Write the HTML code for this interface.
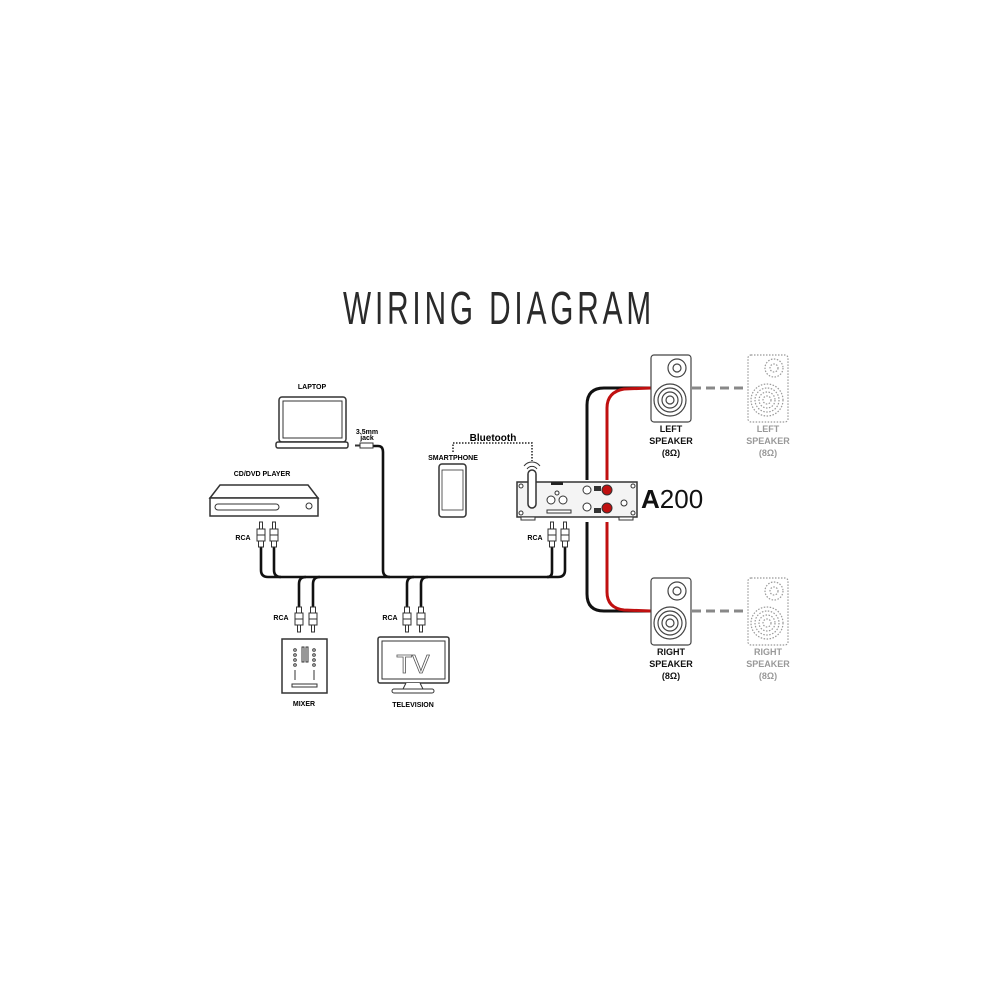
<!DOCTYPE html>
<html><head><meta charset="utf-8"><style>
html,body{margin:0;padding:0;background:#fff;}
svg{display:block;}
text{font-family:"Liberation Sans",sans-serif;}
.b{font-weight:bold;}
</style></head><body>
<svg width="1000" height="1000" viewBox="0 0 1000 1000" xmlns="http://www.w3.org/2000/svg">
<rect width="1000" height="1000" fill="#fff"/>
<text x="343" y="324" font-size="46" fill="#2a2a2a" textLength="312" lengthAdjust="spacingAndGlyphs" style="font-weight:normal;letter-spacing:6px">WIRING DIAGRAM</text>

<defs><g id="plugU" fill="#fff" stroke="#333" stroke-width="1"><rect x="-1.5" y="0" width="3" height="7"/><rect x="-4" y="7" width="8" height="12"/><line x1="-4" y1="13" x2="4" y2="13"/><rect x="-2.5" y="19" width="5" height="6"/></g>
<g id="plugD" fill="#fff" stroke="#333" stroke-width="1"><rect x="-2.5" y="0" width="5" height="6"/><rect x="-4" y="6" width="8" height="12"/><line x1="-4" y1="12" x2="4" y2="12"/><rect x="-1.5" y="18" width="3" height="7"/></g>
<g id="spk" fill="#fff" stroke-width="1.2">
<rect x="0" y="0" width="40" height="67" rx="3"/>
<circle cx="26" cy="13" r="9"/><circle cx="26" cy="13" r="4"/>
<circle cx="19" cy="45" r="16"/><circle cx="19" cy="45" r="12"/><circle cx="19" cy="45" r="8"/><circle cx="19" cy="45" r="4"/>
</g></defs>

<!-- cables black bus -->
<g fill="none" stroke="#111" stroke-width="2.6">
<path d="M261 547 V570 Q261 577 268 577 H558"/>
<path d="M552 547 V572 Q552 577 547 577"/>
<path d="M274 547 V570 Q274 577 281 577"/>
<path d="M565 547 V570 Q565 577 558 577"/>
<path d="M299 607 V584 Q299 577 306 577"/>
<path d="M313 607 V584 Q313 577 320 577"/>
<path d="M407 607 V584 Q407 577 414 577"/>
<path d="M421 607 V584 Q421 577 428 577"/>
<path d="M372 446 H378 Q383 446 383 452 V570 Q383 577 390 577"/>
</g>
<!-- speaker wires -->
<g fill="none" stroke-width="3">
<path d="M587 480 V405 Q587 388 604 388 H651" stroke="#111"/>
<path d="M607 480 V408 Q607 392 624 389 L651 388" stroke="#c01010"/>
<path d="M587 522 V594 Q587 611 604 611 H651" stroke="#111"/>
<path d="M607 522 V592 Q607 608 624 610 L651 611" stroke="#c01010"/>
</g>
<g stroke="#888" stroke-width="3" stroke-dasharray="9,5">
<line x1="692" y1="388" x2="748" y2="388"/><line x1="692" y1="611" x2="748" y2="611"/>
</g>

<!-- laptop -->
<text x="312" y="389" font-size="7" class="b" text-anchor="middle">LAPTOP</text>
<rect x="279" y="397" width="67" height="45" rx="3" fill="#fff" stroke="#333" stroke-width="1.5"/>
<rect x="283" y="401" width="59" height="37" fill="none" stroke="#333" stroke-width="1"/>
<rect x="276" y="442" width="72" height="6" rx="2" fill="#fff" stroke="#333" stroke-width="1.5"/>
<text x="367" y="434" font-size="7" class="b" text-anchor="middle">3.5mm</text>
<text x="367" y="440" font-size="7" class="b" text-anchor="middle">jack</text>
<rect x="360" y="443" width="13" height="5" fill="#fff" stroke="#333"/>
<line x1="355" y1="445.5" x2="360" y2="445.5" stroke="#333" stroke-width="2"/>

<!-- CD -->
<text x="262" y="476" font-size="7" class="b" text-anchor="middle">CD/DVD PLAYER</text>
<path d="M210 498 L220 485 H308 L318 498 Z" fill="#fff" stroke="#333" stroke-width="1.5"/>
<rect x="210" y="498" width="108" height="18" fill="#fff" stroke="#333" stroke-width="1.5"/>
<rect x="215" y="504" width="64" height="6" rx="3" fill="none" stroke="#333"/>
<circle cx="309" cy="506" r="3" fill="none" stroke="#333"/>

<use href="#plugU" x="261" y="522"/><use href="#plugU" x="274" y="522"/>
<use href="#plugU" x="552" y="522"/><use href="#plugU" x="565" y="522"/>
<use href="#plugD" x="299" y="607"/><use href="#plugD" x="313" y="607"/>
<use href="#plugD" x="407" y="607"/><use href="#plugD" x="421" y="607"/>
<text x="243" y="540" font-size="7" class="b" text-anchor="middle">RCA</text>
<text x="535" y="540" font-size="7" class="b" text-anchor="middle">RCA</text>
<text x="281" y="620" font-size="7" class="b" text-anchor="middle">RCA</text>
<text x="390" y="620" font-size="7" class="b" text-anchor="middle">RCA</text>

<!-- mixer -->
<rect x="282" y="639" width="45" height="54" fill="#fff" stroke="#333" stroke-width="1.5"/>
<g fill="none" stroke="#333" stroke-width="1">
<circle cx="295" cy="650" r="1.3"/><circle cx="295" cy="655" r="1.3"/><circle cx="295" cy="660" r="1.3"/><circle cx="295" cy="665" r="1.3"/>
<circle cx="314" cy="650" r="1.3"/><circle cx="314" cy="655" r="1.3"/><circle cx="314" cy="660" r="1.3"/><circle cx="314" cy="665" r="1.3"/>
<rect x="302" y="647" width="2" height="15"/><rect x="306" y="647" width="2" height="15"/>
<line x1="295" y1="670" x2="295" y2="680"/><line x1="314" y1="670" x2="314" y2="680"/>
<rect x="292" y="684" width="25" height="3"/>
</g>
<text x="304" y="706" font-size="7" class="b" text-anchor="middle">MIXER</text>

<!-- TV -->
<rect x="378" y="637" width="71" height="46" rx="2" fill="#fff" stroke="#333" stroke-width="1.5"/>
<rect x="382" y="641" width="63" height="38" fill="none" stroke="#333"/>
<text x="413" y="673" font-size="26" text-anchor="middle" fill="#fff" stroke="#555" stroke-width="0.8">TV</text>
<path d="M406 683 L403 689 H423 L420 683" fill="#fff" stroke="#333"/>
<rect x="392" y="689" width="42" height="4" rx="2" fill="#fff" stroke="#333"/>
<text x="413" y="707" font-size="7" class="b" text-anchor="middle">TELEVISION</text>

<!-- smartphone / bluetooth -->
<text x="453" y="460" font-size="7" class="b" text-anchor="middle">SMARTPHONE</text>
<rect x="439" y="464" width="27" height="53" rx="3" fill="#fff" stroke="#333" stroke-width="1.5"/>
<rect x="442" y="470" width="21" height="40" fill="none" stroke="#333" stroke-width="0.8"/>
<path d="M453 452 V443 H532 V461" fill="none" stroke="#222" stroke-width="1.5" stroke-dasharray="1.5,1.5"/>
<text x="493" y="441" font-size="10" class="b" text-anchor="middle">Bluetooth</text>

<!-- amp -->
<path d="M524 466 A10 10 0 0 1 540 466 M527 469 A6 6 0 0 1 537 469" fill="none" stroke="#333"/>
<rect x="517" y="482" width="120" height="35" fill="#f4f4f4" stroke="#333" stroke-width="1.5"/>
<rect x="521" y="517" width="14" height="3" fill="#fff" stroke="#333"/>
<rect x="619" y="517" width="14" height="3" fill="#fff" stroke="#333"/>
<rect x="528" y="470" width="8" height="38" rx="4" fill="#fff" stroke="#333" stroke-width="1.5"/>
<g fill="#fff" stroke="#333">
<circle cx="521" cy="486" r="2"/><circle cx="521" cy="513" r="2"/><circle cx="633" cy="486" r="2"/><circle cx="633" cy="513" r="2"/>
<circle cx="551" cy="500" r="4"/><circle cx="563" cy="500" r="4"/><circle cx="557" cy="493" r="2"/>
<circle cx="587" cy="490" r="4"/><circle cx="587" cy="507" r="4"/><circle cx="624" cy="503" r="3"/>
<rect x="547" y="510" width="24" height="3"/>
</g>
<rect x="551" y="482" width="12" height="3" fill="#222"/>
<rect x="594" y="486" width="7" height="5" fill="#333"/><rect x="594" y="508" width="7" height="5" fill="#333"/>
<circle cx="607" cy="490" r="5" fill="#c01010" stroke="#333"/><circle cx="607" cy="508" r="5" fill="#c01010" stroke="#333"/>
<text x="641" y="508" font-size="26" fill="#111"><tspan font-weight="bold">A</tspan>200</text>

<!-- speakers -->
<use href="#spk" x="651" y="355" stroke="#444"/>
<use href="#spk" x="651" y="578" stroke="#444"/>
<use href="#spk" x="748" y="355" stroke="#999" stroke-dasharray="1.5,1.5"/>
<use href="#spk" x="748" y="578" stroke="#999" stroke-dasharray="1.5,1.5"/>
<g font-size="9" class="b" text-anchor="middle" fill="#111">
<text x="671" y="432">LEFT</text><text x="671" y="444">SPEAKER</text><text x="671" y="456">(8Ω)</text>
<text x="671" y="655">RIGHT</text><text x="671" y="667">SPEAKER</text><text x="671" y="679">(8Ω)</text>
</g>
<g font-size="9" class="b" text-anchor="middle" fill="#999">
<text x="768" y="432">LEFT</text><text x="768" y="444">SPEAKER</text><text x="768" y="456">(8Ω)</text>
<text x="768" y="655">RIGHT</text><text x="768" y="667">SPEAKER</text><text x="768" y="679">(8Ω)</text>
</g>
</svg>
</body></html>
